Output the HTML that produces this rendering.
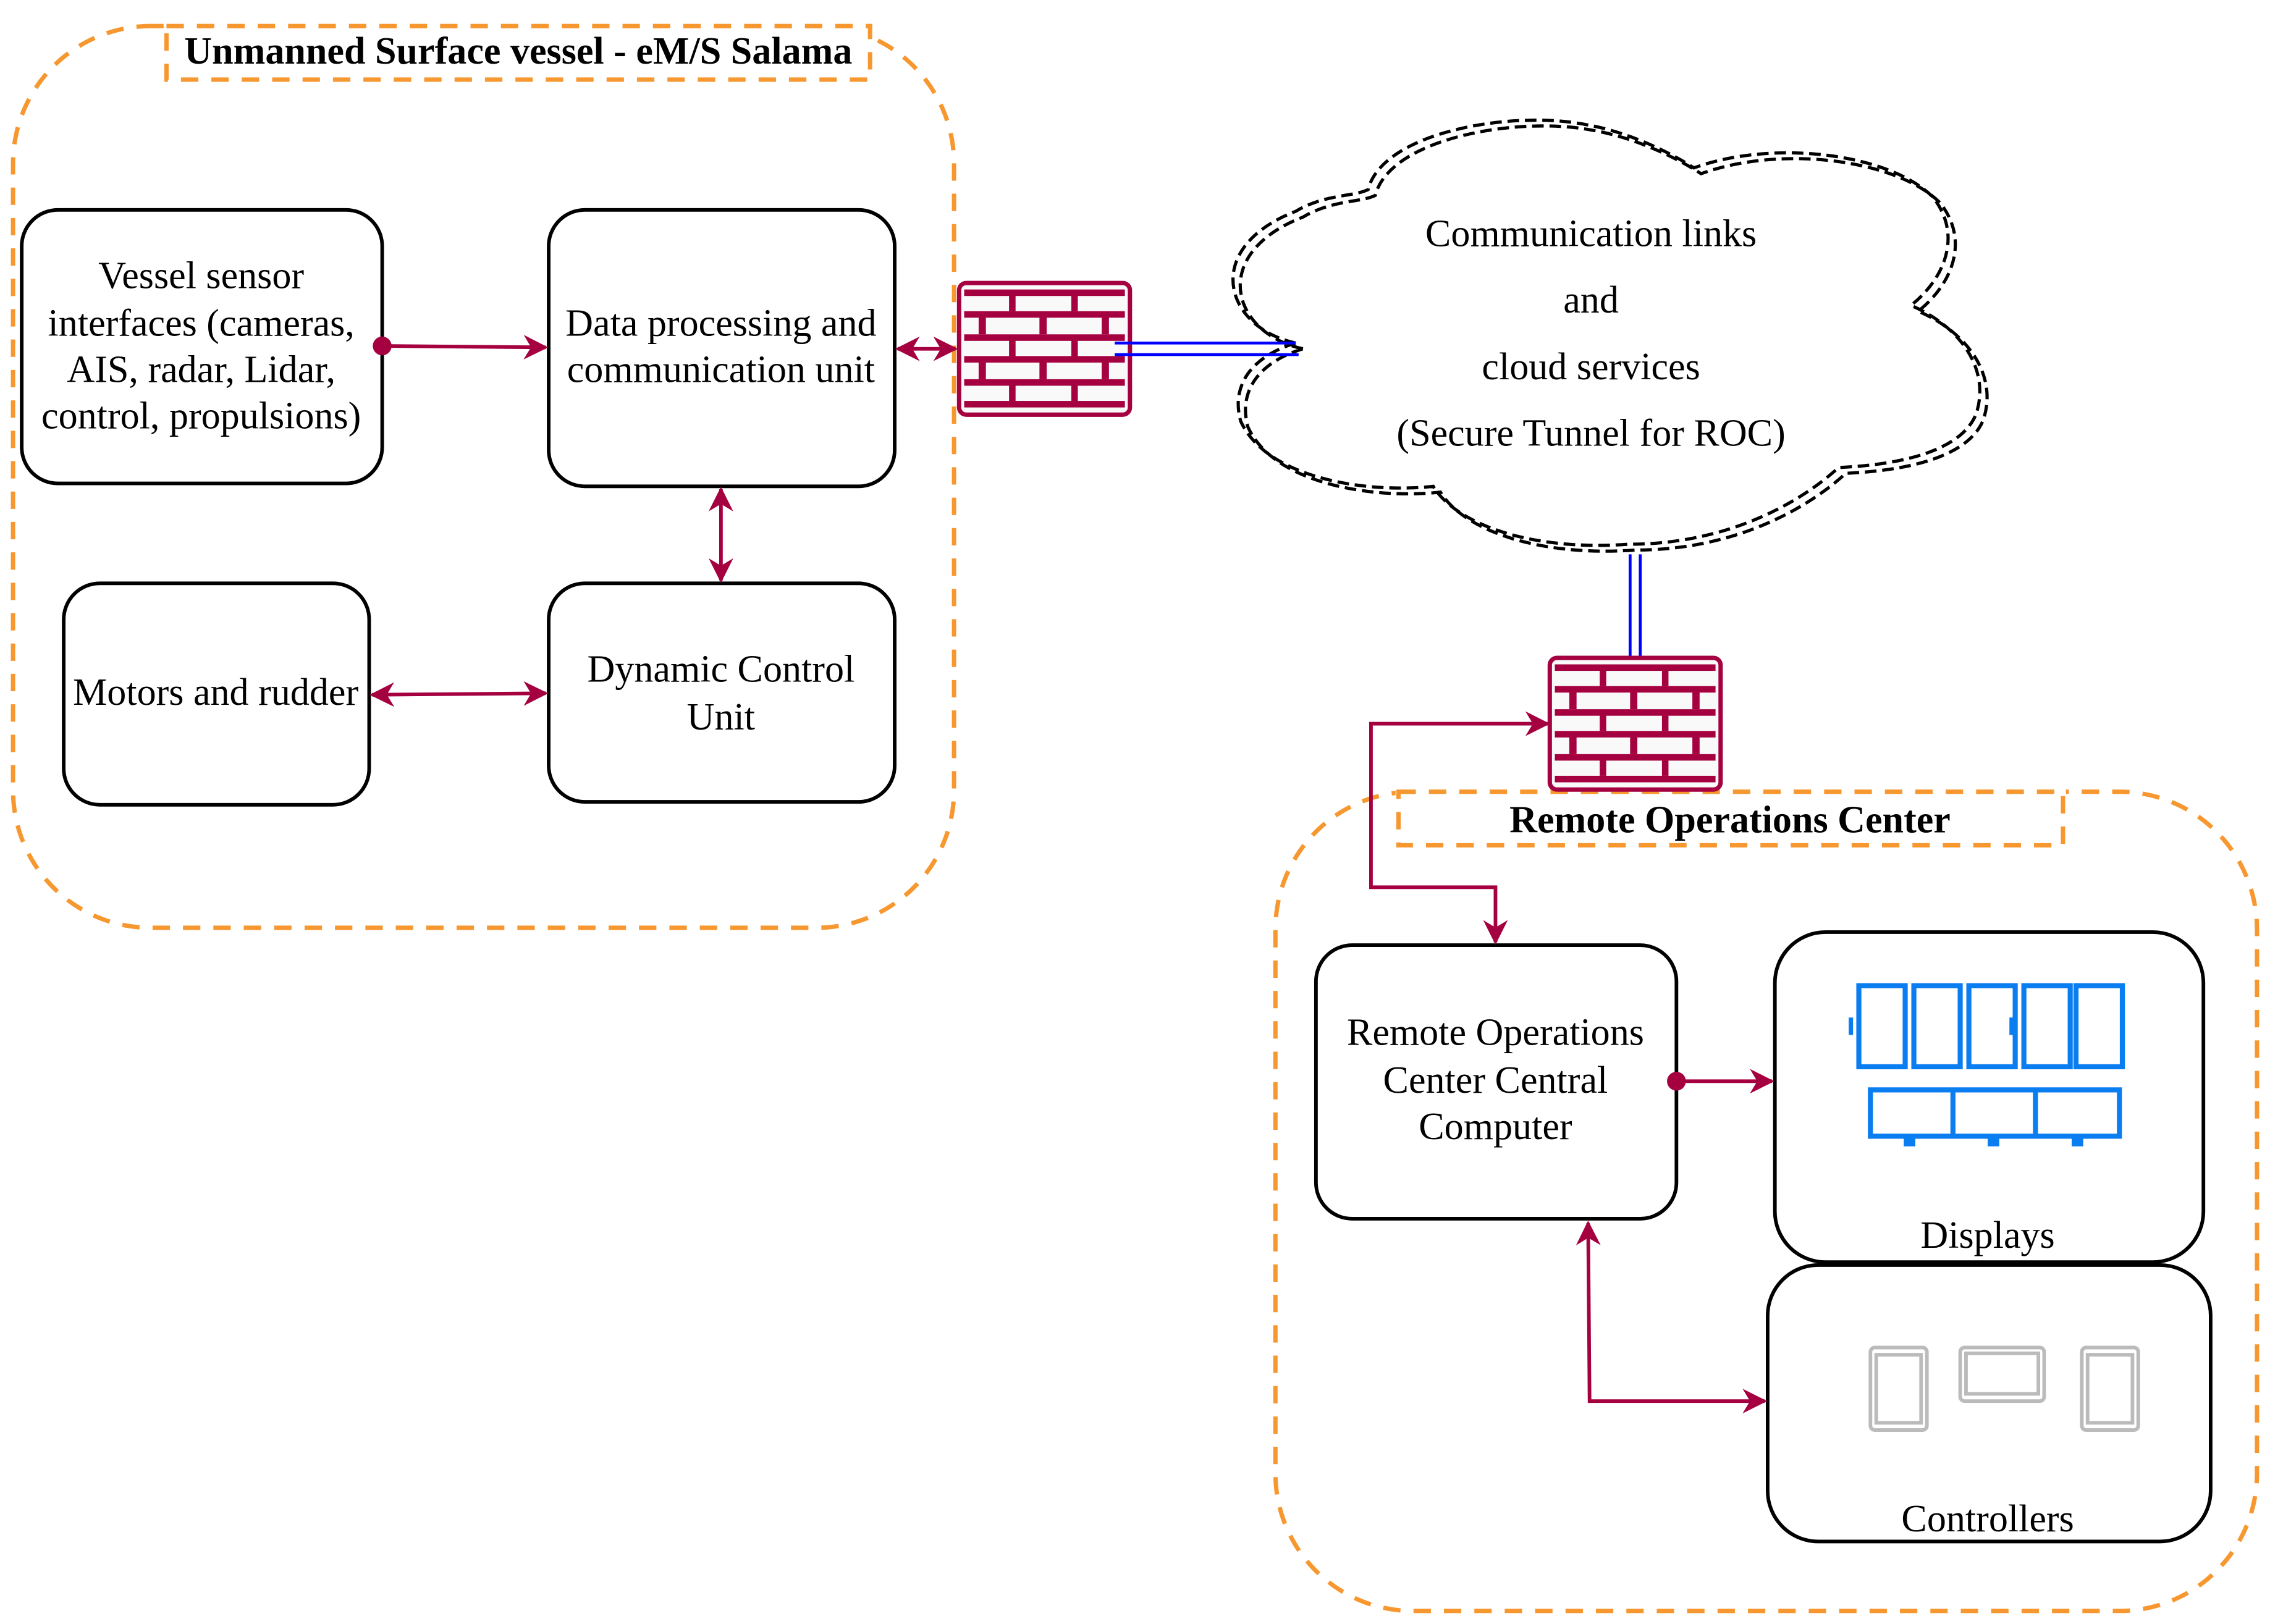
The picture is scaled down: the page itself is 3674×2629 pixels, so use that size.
<!DOCTYPE html>
<html><head><meta charset="utf-8"><style>html,body{margin:0;padding:0;background:#fff}svg{display:block}</style></head>
<body>
<svg width="3674" height="2629" viewBox="0 0 1568 1122" xmlns="http://www.w3.org/2000/svg" font-family="Liberation Serif, serif">
<defs>
<marker id="ahb" viewBox="0 0 10 10" refX="9" refY="5" markerWidth="17" markerHeight="17" orient="auto-start-reverse" markerUnits="userSpaceOnUse">
<path d="M0,0 L10,5 L0,10 L3,5 Z" fill="#A50040"/></marker>
<g id="fw">
<rect x="1.5" y="1.5" width="118" height="91" rx="5" fill="#f9f9f9" stroke="#A50040" stroke-width="3"/>
<g fill="#A50040">
<rect x="5" y="6" width="111" height="4.5"/><rect x="5" y="21" width="111" height="4.5"/><rect x="5" y="37" width="111" height="4.5"/><rect x="5" y="52" width="111" height="4.5"/><rect x="5" y="68" width="111" height="4.5"/><rect x="5" y="83" width="111" height="4.5"/>
<rect x="36" y="10" width="4.5" height="11"/><rect x="79" y="10" width="4.5" height="11"/>
<rect x="15" y="25" width="5" height="12"/><rect x="57" y="25" width="5" height="12"/><rect x="100" y="25" width="5" height="12"/>
<rect x="36" y="41" width="4.5" height="11"/><rect x="79" y="41" width="4.5" height="11"/>
<rect x="15" y="56" width="5" height="12"/><rect x="57" y="56" width="5" height="12"/><rect x="100" y="56" width="5" height="12"/>
<rect x="36" y="72" width="4.5" height="11"/><rect x="79" y="72" width="4.5" height="11"/>
</g></g>
</defs>
<g fill="none" stroke="#F7972F" stroke-width="3" stroke-dasharray="12,9">
<rect x="9" y="18" width="650" height="623" rx="95"/>
<rect x="881" y="547" width="678" height="566" rx="95"/>
</g>
<rect x="113" y="14" width="490" height="43" fill="#fff"/>
<rect x="964" y="543" width="463" height="43" fill="#fff"/>
<g fill="none" stroke="#F7972F" stroke-width="3" stroke-dasharray="12,9">
<rect x="115" y="18" width="486" height="37"/>
<rect x="966" y="547" width="459" height="37"/>
</g>
<text x="358" y="44" font-size="26.5" font-weight="bold" text-anchor="middle">Unmanned Surface vessel - eM/S Salama</text>
<text x="1195" y="575" font-size="26.5" font-weight="bold" text-anchor="middle">Remote Operations Center</text>
<g fill="#fff" stroke="#000" stroke-width="2.5">
<rect x="15" y="145" width="249" height="189" rx="25"/>
<rect x="379" y="145" width="239" height="191" rx="25"/>
<rect x="44" y="403" width="211" height="153" rx="25"/>
<rect x="379" y="403" width="239" height="151" rx="25"/>
<rect x="909" y="653" width="249" height="189" rx="25"/>
<rect x="1226" y="644" width="296" height="228" rx="35"/>
<rect x="1221" y="874" width="306" height="191" rx="35"/>
</g>
<g font-size="26.5" text-anchor="middle" fill="#000">
<text x="139" y="199">Vessel sensor</text><text x="139" y="232">interfaces (cameras,</text><text x="139" y="264">AIS, radar, Lidar,</text><text x="139" y="296">control, propulsions)</text>
<text x="498" y="232">Data processing and</text><text x="498" y="264">communication unit</text>
<text x="149" y="487">Motors and rudder</text>
<text x="498" y="471">Dynamic Control</text><text x="498" y="504">Unit</text>
<text x="1033" y="722">Remote Operations</text><text x="1033" y="755">Center Central</text><text x="1033" y="787">Computer</text>
<text x="1373" y="862">Displays</text><text x="1373" y="1058">Controllers</text>
<text x="1099" y="170">Communication links</text><text x="1099" y="216">and</text><text x="1099" y="262">cloud services</text><text x="1099" y="308">(Secure Tunnel for ROC)</text>
</g>
<g fill="none" stroke="#000" stroke-width="2.2" stroke-dasharray="8,4">
<path d="M900,241 C850,230 835,175 900,150 C920,138 940,140 950,135 C960,95 1050,80 1100,90 C1130,95 1160,110 1175,120 C1230,100 1310,110 1340,140 C1360,165 1350,195 1325,215 C1360,230 1380,260 1370,290 C1360,315 1320,325 1275,327 C1250,350 1200,380 1130,380 C1060,385 1010,365 995,340 C950,345 880,335 862,295 C855,270 870,250 900,241 Z"/>
<path d="M900,241 C850,230 835,175 900,150 C920,138 940,140 950,135 C960,95 1050,80 1100,90 C1130,95 1160,110 1175,120 C1230,100 1310,110 1340,140 C1360,165 1350,195 1325,215 C1360,230 1380,260 1370,290 C1360,315 1320,325 1275,327 C1250,350 1200,380 1130,380 C1060,385 1010,365 995,340 C950,345 880,335 862,295 C855,270 870,250 900,241 Z" transform="translate(-5,-4)"/>
</g>
<use href="#fw" x="661" y="194"/>
<use href="#fw" x="1069" y="453"/>
<g stroke="#0000FF" stroke-width="2">
<line x1="770" y1="237" x2="895" y2="237"/><line x1="770" y1="245" x2="897" y2="245"/>
<line x1="1126" y1="383" x2="1126" y2="453"/><line x1="1133" y1="383" x2="1133" y2="453"/>
</g>
<g stroke="#A50040" stroke-width="2.5" fill="none">
<line x1="264" y1="239" x2="377" y2="240" marker-end="url(#ahb)"/>
<line x1="620" y1="241" x2="660" y2="241" marker-start="url(#ahb)" marker-end="url(#ahb)"/>
<line x1="498" y1="338" x2="498" y2="401" marker-start="url(#ahb)" marker-end="url(#ahb)"/>
<line x1="257" y1="480" x2="377" y2="479" marker-start="url(#ahb)" marker-end="url(#ahb)"/>
<polyline points="1069,500 947,500 947,613 1033,613 1033,651" marker-start="url(#ahb)" marker-end="url(#ahb)"/>
<line x1="1158" y1="747" x2="1224" y2="747" marker-end="url(#ahb)"/>
<polyline points="1097,845 1098,968 1219,968" marker-start="url(#ahb)" marker-end="url(#ahb)"/>
</g>
<circle cx="264" cy="239" r="6.5" fill="#A50040"/>
<circle cx="1158" cy="747" r="6.5" fill="#A50040"/>
<g fill="none" stroke="#0A7DF0" stroke-width="3.5">
<rect x="1284" y="681" width="32" height="56"/><rect x="1322" y="681" width="32" height="56"/><rect x="1360" y="681" width="32" height="56"/><rect x="1398" y="681" width="32" height="56"/><rect x="1434" y="681" width="32" height="56"/>
<rect x="1292" y="753" width="172" height="32"/><line x1="1349" y1="753" x2="1349" y2="785"/><line x1="1406" y1="753" x2="1406" y2="785"/>
</g>
<g fill="#0A7DF0"><rect x="1277" y="703" width="3" height="12"/><rect x="1388" y="703" width="3" height="12"/><rect x="1315" y="786" width="8" height="6"/><rect x="1373" y="786" width="8" height="6"/><rect x="1431" y="786" width="8" height="6"/></g>
<g fill="none" stroke="#bbb" stroke-width="2.5">
<rect x="1292" y="931" width="39" height="57" rx="3"/><rect x="1296" y="936" width="31" height="47"/>
<rect x="1354" y="931" width="58" height="37" rx="3"/><rect x="1358" y="935" width="50" height="28"/>
<rect x="1438" y="931" width="39" height="57" rx="3"/><rect x="1442" y="936" width="31" height="47"/>
</g>
</svg>
</body></html>
